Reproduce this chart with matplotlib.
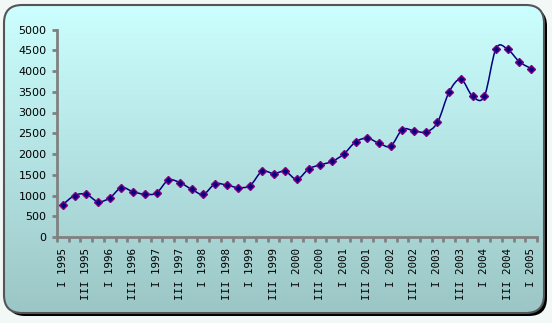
import numpy as np
import matplotlib
matplotlib.use("Agg")
import matplotlib.pyplot as plt
from matplotlib.patches import FancyBboxPatch
from matplotlib.path import Path
from matplotlib.patches import PathPatch

# quarterly values, I 1995 .. I 2005
values = [780, 1000, 1030, 850, 940, 1190, 1090, 1030, 1060, 1370,
          1310, 1150, 1030, 1280, 1250, 1190, 1240, 1580, 1530, 1580,
          1390, 1640, 1740, 1820, 2000, 2290, 2380, 2260, 2190, 2590,
          2560, 2530, 2760, 3500, 3800, 3390, 3390, 4540, 4520, 4220,
          4060]

# labels shown on every second quarter
tick_labels = ["I 1995", "III 1995", "I 1996", "III 1996", "I 1997",
               "III 1997", "I 1998", "III 1998", "I 1999", "III 1999",
               "I 2000", "III 2000", "I 2001", "III 2001", "I 2002",
               "III 2002", "I 2003", "III 2003", "I 2004", "III 2004",
               "I 2005"]

yticks = list(range(0, 5001, 500))

W, H = 552, 323
fig = plt.figure(figsize=(W / 100, H / 100), dpi=100, facecolor="#F2F8F5")

# rounded panel with shadow and vertical gradient
bg = fig.add_axes([0, 0, 1, 1])
bg.set_xlim(0, W)
bg.set_ylim(H, 0)
bg.axis("off")

box = dict(boxstyle="round,pad=0,rounding_size=18")
shadow = FancyBboxPatch((7, 8), 540, 308, fc="black", ec="none", **box)
bg.add_patch(shadow)
panel = FancyBboxPatch((4, 5), 540, 308, fc="none", ec="#555555", lw=1.5,
                       zorder=3, **box)
bg.add_patch(panel)
top = np.array([0xCC, 0xFF, 0xFF]) / 255
bottom = np.array([0x9C, 0xC6, 0xC6]) / 255
t = np.linspace(0, 1, 256)[:, None, None]
grad = top * (1 - t) + bottom * t
im = bg.imshow(grad, extent=(4, 544, 313, 5), aspect="auto", zorder=2)
clip = FancyBboxPatch((4, 5), 540, 308, fc="none", ec="none",
                      transform=bg.transData, **box)
im.set_clip_path(clip)

# plot area
ax = fig.add_axes([57 / W, (H - 237) / H, 480 / W, 207.5 / H])
ax.patch.set_alpha(0)
x = np.arange(len(values))
y = np.array(values, dtype=float)

# smoothed line through the points (cubic Bezier, Catmull-Rom style)
pts = np.column_stack([x, y])
verts = [pts[0]]
codes = [Path.MOVETO]
n = len(pts)
for i in range(n - 1):
    p0 = pts[i - 1] if i > 0 else pts[i]
    p1 = pts[i]
    p2 = pts[i + 1]
    p3 = pts[i + 2] if i + 2 < n else pts[i + 1]
    c1 = p1 + (p2 - p0) / 6
    c2 = p2 - (p3 - p1) / 6
    verts += [c1, c2, p2]
    codes += [Path.CURVE4] * 3
ax.add_patch(PathPatch(Path(verts, codes), fc="none", ec="#000080", lw=1.1, zorder=3))
ax.plot(x, y, ls="none", marker="D", ms=4.3, mfc="#000080", mec="#800080",
        mew=1, zorder=4)

ax.set_xlim(-0.5, len(values) - 0.5)
ax.set_ylim(0, 5000)
ax.set_yticks(yticks)
ax.set_xticks(x[::2])
ax.set_xticklabels(tick_labels, rotation=90, fontsize=7.8, family="DejaVu Sans Mono")
ax.set_xticks(np.arange(-0.5, len(values), 1), minor=True)
ax.tick_params(axis="y", labelsize=8, length=3.5, width=2, color="#808080", pad=4)
ax.tick_params(axis="x", which="major", length=0, pad=8)
ax.tick_params(axis="x", which="minor", length=3.5, width=2, color="#808080")
for side in ("top", "right"):
    ax.spines[side].set_visible(False)
for side in ("left", "bottom"):
    ax.spines[side].set_color("#808080")
    ax.spines[side].set_linewidth(2)

fig.savefig("out.png", dpi=100, facecolor=fig.get_facecolor())
